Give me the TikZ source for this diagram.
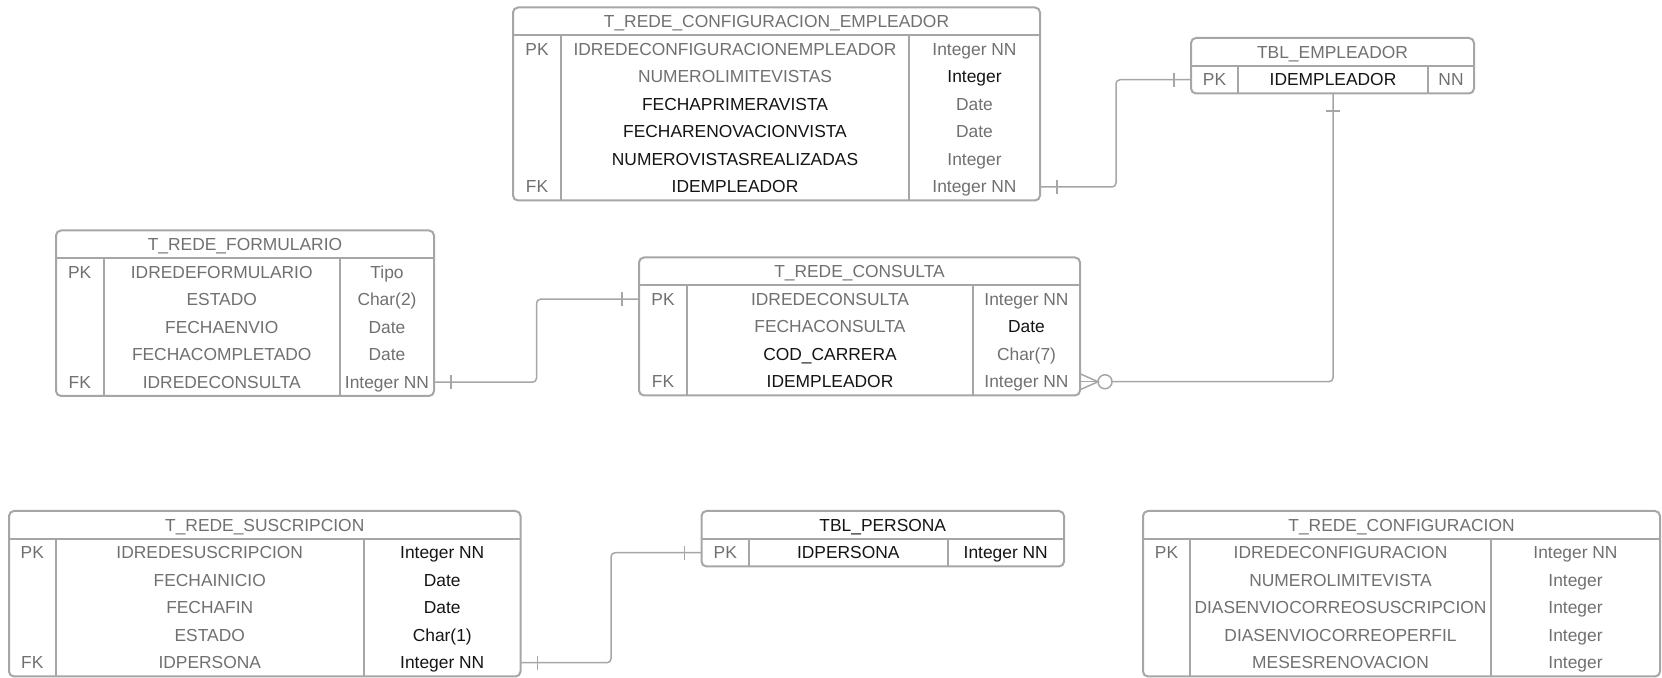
\documentclass[tikz,border=0pt]{standalone}
\usepackage{fontspec}
\setmainfont{Liberation Sans}
\usetikzlibrary{calc}
\definecolor{edge}{RGB}{166,166,166}
\definecolor{connc}{RGB}{166,166,166}
\definecolor{txtg}{RGB}{112,112,112}
\definecolor{txtb}{RGB}{20,20,20}
\tikzset{
  tbl/.style={draw=edge, line width=1pt, rounded corners=2.5pt},
  sepl/.style={draw=edge, line width=1pt},
  lbl/.style={inner sep=0pt, font=\fontsize{8.7}{10}\selectfont, text height=6.2pt, text depth=0pt},
  g/.style={lbl, text=txtg},
  k/.style={lbl, text=txtb},
  link/.style={draw=connc, line width=0.75pt, rounded corners=2pt},
  tick/.style={draw=connc, line width=0.75pt},
}
\newcommand{\setTable}[6]{\def\ta{#1}\def\tb{#2}\def\tc{#3}\def\td{#4}\def\ttop{#5}\def\tn{#6}}
\newcommand{\erFrame}[1]{%
  \pgfmathsetmacro{\erBot}{\ttop+28+#1*27.5}
  \draw[tbl] (\ta,\ttop) rectangle (\td,\erBot);
  \draw[sepl] (\ta,\ttop+28) -- (\td,\ttop+28);
  \draw[sepl] (\tb,\ttop+28) -- (\tb,\erBot);
  \draw[sepl] (\tc,\ttop+28) -- (\tc,\erBot);
}
\newcommand{\erTitle}[2]{\node[#1] (\tn-title) at ({(\ta+\td)/2},\ttop+14) {#2};}
\newcommand{\erRow}[6]{%
  \pgfmathsetmacro{\ry}{\ttop+28+(#1-0.5)*27.5}
  \node[g] (\tn-k#1) at ({(\ta+\tb)/2},\ry) {#2};
  \node[#4] (\tn-n#1) at ({(\tb+\tc)/2},\ry) {#3};
  \node[#6] (\tn-t#1) at ({(\tc+\td)/2},\ry) {#5};
}
\begin{document}
\begin{tikzpicture}[x=0.5pt,y=-0.5pt]
\useasboundingbox (0,0) rectangle (1662,678);

% T_REDE_CONFIGURACION_EMPLEADOR
\setTable{513}{561}{909}{1040}{7.5}{ce}
\erFrame{6}
\erTitle{g}{T\_REDE\_CONFIGURACION\_EMPLEADOR}
\erRow{1}{PK}{IDREDECONFIGURACIONEMPLEADOR}{g}{Integer NN}{g}
\erRow{2}{}{NUMEROLIMITEVISTAS}{g}{Integer}{k}
\erRow{3}{}{FECHAPRIMERAVISTA}{k}{Date}{g}
\erRow{4}{}{FECHARENOVACIONVISTA}{k}{Date}{g}
\erRow{5}{}{NUMEROVISTASREALIZADAS}{k}{Integer}{g}
\erRow{6}{FK}{IDEMPLEADOR}{k}{Integer NN}{g}
\coordinate (ceFK) at (1040,187);

% TBL_EMPLEADOR
\setTable{1191}{1238}{1428}{1474}{38}{emp}
\erFrame{1}
\erTitle{g}{TBL\_EMPLEADOR}
\erRow{1}{PK}{IDEMPLEADOR}{k}{NN}{g}
\coordinate (empPK) at (1191,79.75);
\coordinate (empS) at (1333,93.5);

% T_REDE_FORMULARIO
\setTable{56}{103.5}{340}{434}{230.5}{form}
\erFrame{5}
\erTitle{g}{T\_REDE\_FORMULARIO}
\erRow{1}{PK}{IDREDEFORMULARIO}{g}{Tipo}{g}
\erRow{2}{}{ESTADO}{g}{Char(2)}{g}
\erRow{3}{}{FECHAENVIO}{g}{Date}{g}
\erRow{4}{}{FECHACOMPLETADO}{g}{Date}{g}
\erRow{5}{FK}{IDREDECONSULTA}{g}{Integer NN}{g}
\coordinate (formFK) at (434,382.25);

% T_REDE_CONSULTA
\setTable{639}{687}{973}{1080}{257.5}{cons}
\erFrame{4}
\erTitle{g}{T\_REDE\_CONSULTA}
\erRow{1}{PK}{IDREDECONSULTA}{g}{Integer NN}{g}
\erRow{2}{}{FECHACONSULTA}{g}{Date}{k}
\erRow{3}{}{COD\_CARRERA}{k}{Char(7)}{g}
\erRow{4}{FK}{IDEMPLEADOR}{k}{Integer NN}{g}
\coordinate (consPK) at (639,299.25);
\coordinate (consFK) at (1080,381.75);

% T_REDE_SUSCRIPCION
\setTable{9}{55.5}{364}{520.5}{511}{susc}
\erFrame{5}
\erTitle{g}{T\_REDE\_SUSCRIPCION}
\erRow{1}{PK}{IDREDESUSCRIPCION}{g}{Integer NN}{k}
\erRow{2}{}{FECHAINICIO}{g}{Date}{k}
\erRow{3}{}{FECHAFIN}{g}{Date}{k}
\erRow{4}{}{ESTADO}{g}{Char(1)}{k}
\erRow{5}{FK}{IDPERSONA}{g}{Integer NN}{k}
\coordinate (suscFK) at (520.5,662.75);

% TBL_PERSONA
\setTable{701.5}{749}{947.5}{1064}{511}{pers}
\erFrame{1}
\erTitle{k}{TBL\_PERSONA}
\erRow{1}{PK}{IDPERSONA}{k}{Integer NN}{k}
\coordinate (persPK) at (701.5,552.75);

% T_REDE_CONFIGURACION
\setTable{1143}{1190}{1491}{1660}{511}{conf}
\erFrame{5}
\erTitle{g}{T\_REDE\_CONFIGURACION}
\erRow{1}{PK}{IDREDECONFIGURACION}{g}{Integer NN}{g}
\erRow{2}{}{NUMEROLIMITEVISTA}{g}{Integer}{g}
\erRow{3}{}{DIASENVIOCORREOSUSCRIPCION}{g}{Integer}{g}
\erRow{4}{}{DIASENVIOCORREOPERFIL}{g}{Integer}{g}
\erRow{5}{}{MESESRENOVACION}{g}{Integer}{g}

% connectors
\draw[link] (ceFK) -- ($(ceFK)+(76,0)$) |- (empPK);
\draw[tick] ($(ceFK)+(17,-7)$) -- ++(0,14);
\draw[tick] ($(empPK)+(-17,-7)$) -- ++(0,14);

\draw[link] (formFK) -- ($(formFK)+(102.5,0)$) |- (consPK);
\draw[tick] ($(formFK)+(17,-7)$) -- ++(0,14);
\draw[tick] ($(consPK)+(-17,-7)$) -- ++(0,14);

\draw[link] (suscFK) -- ($(suscFK)+(90.5,0)$) |- (persPK);
\draw[tick] ($(suscFK)+(17,-7)$) -- ++(0,14);
\draw[tick] ($(persPK)+(-17,-7)$) -- ++(0,14);

\coordinate (circC) at ($(consFK)+(25,0)$);
\draw[tick] (circC) circle[radius=7];
\draw[tick] ($(consFK)+(0,-8)$) -- ($(consFK)+(18,0)$) -- ($(consFK)+(0,8)$);
\draw[tick] (consFK) -- ($(consFK)+(18,0)$);
\draw[link] ($(circC)+(7,0)$) -| (empS);
\draw[tick] ($(empS)+(-7,17.5)$) -- ++(14,0);
\end{tikzpicture}
\end{document}
